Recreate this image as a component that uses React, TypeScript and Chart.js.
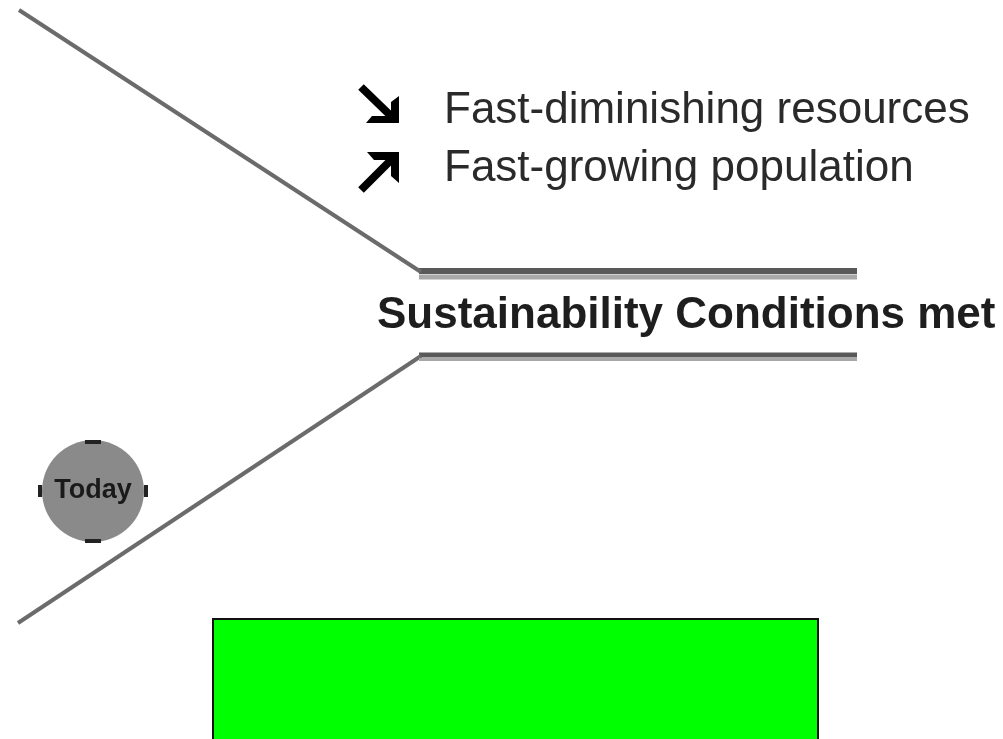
import React, { useEffect, useRef } from "react";
import { Chart, registerables } from "chart.js";

Chart.register(...registerables);

// Diagram data (in diagram units, 0..1003 x 0..739, y downward)
const upperFunnel = [
  { x: 19, y: 10 },
  { x: 421, y: 272 },
];
const upperChannel = [
  { x: 419, y: 271 },
  { x: 857, y: 271 },
];
const upperChannelShade = [
  { x: 419, y: 277 },
  { x: 857, y: 277 },
];
const lowerFunnel = [
  { x: 18, y: 623 },
  { x: 421, y: 356 },
];
const lowerChannel = [
  { x: 419, y: 355 },
  { x: 857, y: 355 },
];
const lowerChannelShade = [
  { x: 419, y: 359.5 },
  { x: 857, y: 359.5 },
];
const todayPoint = [{ x: 93, y: 491 }];
const todayLabel = "Today";
const legendLabels = ["Fast-diminishing resources", "Fast-growing population"];
const legendY = [111, 169];
const legendArrows = ["down", "up"];
const centerLabel = "Sustainability Conditions met";
const centerLabelY = 316;
const greenBox = { x0: 213, x1: 818, y0: 619, y1: 745 };

export default function App() {
  const ref = useRef<HTMLCanvasElement | null>(null);

  useEffect(() => {
    document.body.style.margin = "0";
    const canvas = ref.current;
    if (!canvas) return;

    const overlay = {
      id: "overlay",
      afterDatasetsDraw(chart: any) {
        const ctx = chart.ctx;
        const xs = chart.scales.x;
        const ys = chart.scales.y;
        const px = (v: number) => xs.getPixelForValue(v);
        const py = (v: number) => ys.getPixelForValue(v);
        ctx.save();

        // Today label + selection handles
        const c = todayPoint[0];
        ctx.fillStyle = "#222";
        const cx = px(c.x), cy = py(c.y);
        ctx.fillRect(cx - 8, cy - 51, 16, 4);
        ctx.fillRect(cx - 8, cy + 48, 16, 4);
        ctx.fillRect(cx - 55, cy - 6, 4, 12);
        ctx.fillRect(cx + 51, cy - 6, 4, 12);
        ctx.font = "bold 27px 'Liberation Sans', Arial, sans-serif";
        ctx.textAlign = "center";
        ctx.textBaseline = "middle";
        ctx.fillStyle = "#1a1a1a";
        ctx.fillText(todayLabel, cx, cy);

        // legend text
        ctx.font = "44px 'Liberation Sans', Arial, sans-serif";
        ctx.textAlign = "left";
        ctx.textBaseline = "middle";
        ctx.fillStyle = "#2a2a2a";
        legendLabels.forEach((t, i) => {
          ctx.fillText(t, px(444), py(legendY[i]));
        });

        // arrows
        ctx.strokeStyle = "#000";
        ctx.fillStyle = "#000";
        ctx.lineWidth = 8;
        ctx.lineCap = "butt";
        legendArrows.forEach((dir, i) => {
          const y = legendY[i];
          if (dir === "down") {
            ctx.beginPath();
            ctx.moveTo(px(361), py(y - 24));
            ctx.lineTo(px(392), py(y + 6));
            ctx.stroke();
            ctx.beginPath();
            ctx.moveTo(px(399), py(y - 15));
            ctx.lineTo(px(399), py(y + 12));
            ctx.lineTo(px(366), py(y + 12));
            ctx.lineTo(px(372), py(y + 5));
            ctx.lineTo(px(391), py(y + 5));
            ctx.lineTo(px(391), py(y - 9));
            ctx.closePath();
            ctx.fill();
          } else {
            ctx.beginPath();
            ctx.moveTo(px(361), py(y + 21));
            ctx.lineTo(px(392), py(y - 10));
            ctx.stroke();
            ctx.beginPath();
            ctx.moveTo(px(367), py(y - 17));
            ctx.lineTo(px(399), py(y - 17));
            ctx.lineTo(px(399), py(y + 14));
            ctx.lineTo(px(391), py(y + 7));
            ctx.lineTo(px(391), py(y - 9));
            ctx.lineTo(px(374), py(y - 9));
            ctx.closePath();
            ctx.fill();
          }
        });

        // center label
        ctx.font = "bold 44px 'Liberation Sans', Arial, sans-serif";
        ctx.fillStyle = "#1e1e1e";
        ctx.textAlign = "left";
        ctx.fillText(centerLabel, px(377), py(centerLabelY));

        // green box
        ctx.fillStyle = "#00ff00";
        ctx.strokeStyle = "#111";
        ctx.lineWidth = 2;
        const bx = px(greenBox.x0), by = py(greenBox.y0);
        const bw = px(greenBox.x1) - bx, bh = py(greenBox.y1) - by;
        ctx.fillRect(bx, by, bw, bh);
        ctx.strokeRect(bx, by, bw, bh);
        ctx.restore();
      },
    };

    const chart = new Chart(canvas, {
      type: "scatter",
      data: {
        datasets: [
          { data: upperChannelShade, showLine: true, borderColor: "#a8a8a8", borderWidth: 5, pointRadius: 0 },
          { data: lowerChannelShade, showLine: true, borderColor: "#a8a8a8", borderWidth: 3, pointRadius: 0 },
          { data: upperFunnel, showLine: true, borderColor: "#6b6b6b", borderWidth: 4, pointRadius: 0 },
          { data: upperChannel, showLine: true, borderColor: "#595959", borderWidth: 6, pointRadius: 0 },
          { data: lowerFunnel, showLine: true, borderColor: "#6b6b6b", borderWidth: 4, pointRadius: 0 },
          { data: lowerChannel, showLine: true, borderColor: "#595959", borderWidth: 5, pointRadius: 0 },
          {
            data: todayPoint,
            pointRadius: 51,
            pointBackgroundColor: "#8a8a8a",
            pointBorderColor: "#8a8a8a",
            pointBorderWidth: 0,
          },
        ],
      },
      options: {
        animation: false,
        responsive: false,
        maintainAspectRatio: false,
        layout: { padding: 0, autoPadding: false },
        plugins: { legend: { display: false }, tooltip: { enabled: false }, title: { display: false } },
        scales: {
          x: { type: "linear", min: 0, max: 1003, display: false },
          y: { type: "linear", min: 0, max: 739, reverse: true, display: false },
        },
      },
      plugins: [overlay],
    });
    return () => chart.destroy();
  }, []);

  return (
    <div style={{ width: 1003, height: 739, background: "#fff" }}>
      <canvas ref={ref} width={1003} height={739} style={{ display: "block" }} />
    </div>
  );
}
